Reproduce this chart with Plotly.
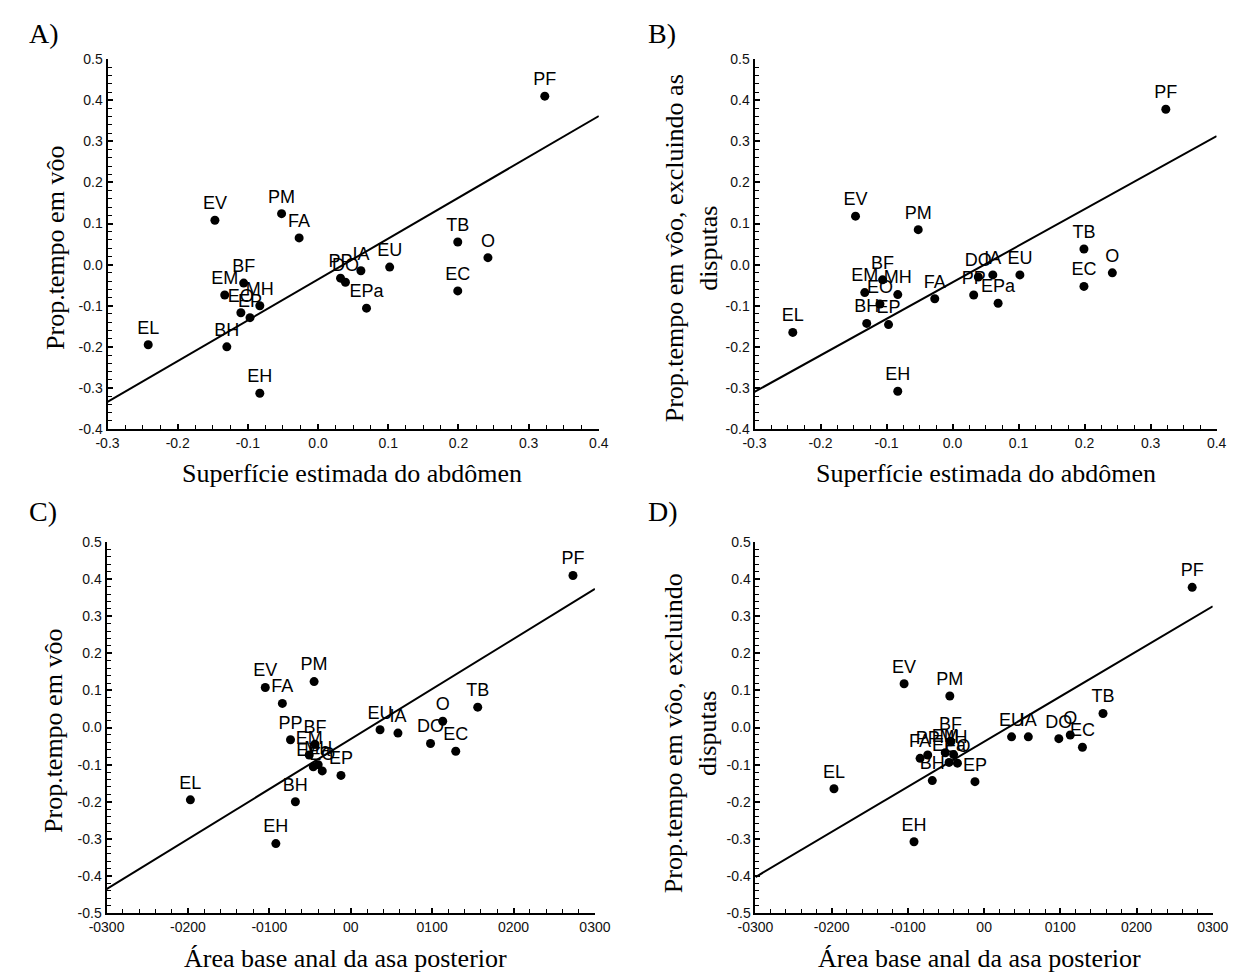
import numpy as np
import plotly.graph_objects as go

# Species codes (same order in every array below)
species = ["PF", "EV", "PM", "FA", "TB", "O", "EU", "IA", "DO", "PP",
           "EPa", "EC", "EH", "EL", "BH", "BF", "EM", "EO", "EP", "MH"]

# Superfície estimada do abdômen (panels A, B)
abdomen = [0.323, -0.147, -0.052, -0.027, 0.199, 0.242, 0.102, 0.061, 0.039, 0.032,
           0.069, 0.199, -0.083, -0.242, -0.130, -0.106, -0.133, -0.110, -0.097, -0.083]

# Área base anal da asa posterior (panels C, D)
area_anal = [0.0273, -0.0105, -0.0045, -0.0084, 0.0156, 0.0113, 0.0036, 0.0058, 0.0098, -0.0074,
             -0.0046, 0.0129, -0.0092, -0.0197, -0.0068, -0.0044, -0.0051, -0.0035, -0.0012, -0.0040]

# Prop. tempo em vôo (panels A, C)
voo = [0.410, 0.108, 0.124, 0.065, 0.055, 0.017, -0.006, -0.015, -0.043, -0.033,
       -0.106, -0.064, -0.313, -0.195, -0.200, -0.045, -0.074, -0.117, -0.129, -0.100]

# Prop. tempo em vôo, excluindo as disputas (panels B, D)
voo_sem_disputas = [0.378, 0.118, 0.085, -0.083, 0.038, -0.020, -0.025, -0.025, -0.030, -0.074,
                    -0.094, -0.053, -0.308, -0.165, -0.143, -0.037, -0.068, -0.096, -0.146, -0.073]

# Fitted regression lines (y = slope * x + intercept) for panels A, B, C, D
fit_slope = [0.994, 0.889, 13.5, 12.17]
fit_intercept = [-0.036, -0.043, -0.031, -0.038]

# Tick values and labels
abd_ticks = [-0.3, -0.2, -0.1, 0.0, 0.1, 0.2, 0.3, 0.4]
abd_ticktext = ["-0.3", "-0.2", "-0.1", "0.0", "0.1", "0.2", "0.3", "0.4"]
anal_ticks = [-0.03, -0.02, -0.01, 0.0, 0.01, 0.02, 0.03]
anal_ticktext = ["-0300", "-0200", "-0100", "00", "0100", "0200", "0300"]
y_ticks_ab = [0.5, 0.4, 0.3, 0.2, 0.1, 0.0, -0.1, -0.2, -0.3, -0.4]
y_ticktext_ab = ["0.5", "0.4", "0.3", "0.2", "0.1", "0.0", "-0.1", "-0.2", "-0.3", "-0.4"]
y_ticks_cd = [0.5, 0.4, 0.3, 0.2, 0.1, 0.0, -0.1, -0.2, -0.3, -0.4, -0.5]
y_ticktext_cd = ["0.5", "0.4", "0.3", "0.2", "0.1", "0.0", "-0.1", "-0.2", "-0.3", "-0.4", "-0.5"]

W, H = 1256, 979


def px_x(p):
    return p / W


def px_y(p):
    return 1 - p / H


SERIF = "Liberation Serif"
SANS = "Liberation Sans"

panels = [
    dict(letter="A)", xs=abdomen, ys=voo, xr=[-0.3, 0.4], yr=[-0.4, 0.5],
         xt=(abd_ticks, abd_ticktext), yt=(y_ticks_ab, y_ticktext_ab), xminor=0.025,
         box=(92, 597, 52, 428), letter_pos=(9, 26),
         xtitle="Superfície estimada do abdômen", xtitle_pos=(343, 473),
         ytitle="Prop.tempo em vôo", ytitle_pos=(38, 244)),
    dict(letter="B)", xs=abdomen, ys=voo_sem_disputas, xr=[-0.3, 0.4], yr=[-0.4, 0.5],
         xt=(abd_ticks, abd_ticktext), yt=(y_ticks_ab, y_ticktext_ab), xminor=0.025,
         box=(757, 1232, 52, 428), letter_pos=(645, 26),
         xtitle="Superfície estimada do abdômen", xtitle_pos=(995, 473),
         ytitle="Prop.tempo em vôo, excluindo as<br>disputas", ytitle_pos=(692, 244)),
    dict(letter="C)", xs=area_anal, ys=voo, xr=[-0.03, 0.03], yr=[-0.5, 0.5],
         xt=(anal_ticks, anal_ticktext), yt=(y_ticks_cd, y_ticktext_cd), xminor=0.002,
         box=(91, 593, 543, 920), letter_pos=(9, 512),
         xtitle="Área base anal da asa posterior", xtitle_pos=(337, 966),
         ytitle="Prop.tempo em vôo", ytitle_pos=(37, 735)),
    dict(letter="D)", xs=area_anal, ys=voo_sem_disputas, xr=[-0.03, 0.03], yr=[-0.5, 0.5],
         xt=(anal_ticks, anal_ticktext), yt=(y_ticks_cd, y_ticktext_cd), xminor=0.002,
         box=(758, 1228, 543, 920), letter_pos=(645, 512),
         xtitle="Área base anal da asa posterior", xtitle_pos=(988, 966),
         ytitle="Prop.tempo em vôo, excluindo<br>disputas", ytitle_pos=(692, 737)),
]

fig = go.Figure()
annotations = []
layout = {}

for i, p in enumerate(panels):
    n = "" if i == 0 else str(i + 1)
    xref, yref = "x" + n, "y" + n
    xs = np.array(p["xs"], dtype=float)
    ys = np.array(p["ys"], dtype=float)

    # regression line drawn across the full x range of the panel
    lx = np.array(p["xr"], dtype=float)
    fig.add_trace(go.Scatter(x=lx, y=fit_slope[i] * lx + fit_intercept[i], mode="lines",
                             line=dict(color="black", width=2),
                             xaxis=xref, yaxis=yref, showlegend=False, hoverinfo="skip"))

    fig.add_trace(go.Scatter(x=xs, y=ys, mode="markers+text", text=species,
                             textposition="top center",
                             textfont=dict(family=SANS, size=18, color="black"),
                             marker=dict(color="black", size=9),
                             xaxis=xref, yaxis=yref, showlegend=False, cliponaxis=False))

    x0, x1, y0, y1 = p["box"]
    common = dict(showline=True, linecolor="black", linewidth=2, mirror=False,
                  showgrid=False, zeroline=False, ticks="inside", ticklen=5,
                  tickwidth=1.5, tickcolor="black",
                  tickfont=dict(family=SANS, size=14, color="#111111"))
    layout["xaxis" + n] = dict(common, domain=[px_x(x0), px_x(x1)], range=p["xr"],
                               anchor=yref, tickmode="array", tickvals=p["xt"][0],
                               ticktext=p["xt"][1],
                               minor=dict(ticks="inside", ticklen=4, tickwidth=1,
                                          tickcolor="black", dtick=p["xminor"],
                                          tick0=p["xr"][0], showgrid=False))
    layout["yaxis" + n] = dict(common, domain=[px_y(y1), px_y(y0)], range=p["yr"],
                               anchor=xref, tickmode="array", tickvals=p["yt"][0],
                               ticktext=p["yt"][1],
                               minor=dict(ticks="inside", ticklen=4, tickwidth=1,
                                          tickcolor="black", dtick=0.02,
                                          tick0=p["yr"][0], showgrid=False))

    lx_, ly_ = p["letter_pos"]
    annotations.append(dict(text=p["letter"], x=px_x(lx_), y=px_y(ly_), xref="paper",
                            yref="paper", xanchor="left", yanchor="middle",
                            showarrow=False, font=dict(family=SERIF, size=28, color="black")))
    tx, ty = p["xtitle_pos"]
    annotations.append(dict(text=p["xtitle"], x=px_x(tx), y=px_y(ty), xref="paper",
                            yref="paper", xanchor="center", yanchor="middle",
                            showarrow=False, font=dict(family=SERIF, size=26, color="black")))
    yx, yy = p["ytitle_pos"]
    annotations.append(dict(text=p["ytitle"], x=px_x(yx), y=px_y(yy), xref="paper",
                            yref="paper", xanchor="center", yanchor="middle",
                            textangle=-90, showarrow=False,
                            font=dict(family=SERIF, size=26, color="black")))

fig.update_layout(width=W, height=H, margin=dict(l=0, r=0, t=0, b=0),
                  paper_bgcolor="white", plot_bgcolor="white",
                  annotations=annotations, **layout)

fig.write_html("out.html")
